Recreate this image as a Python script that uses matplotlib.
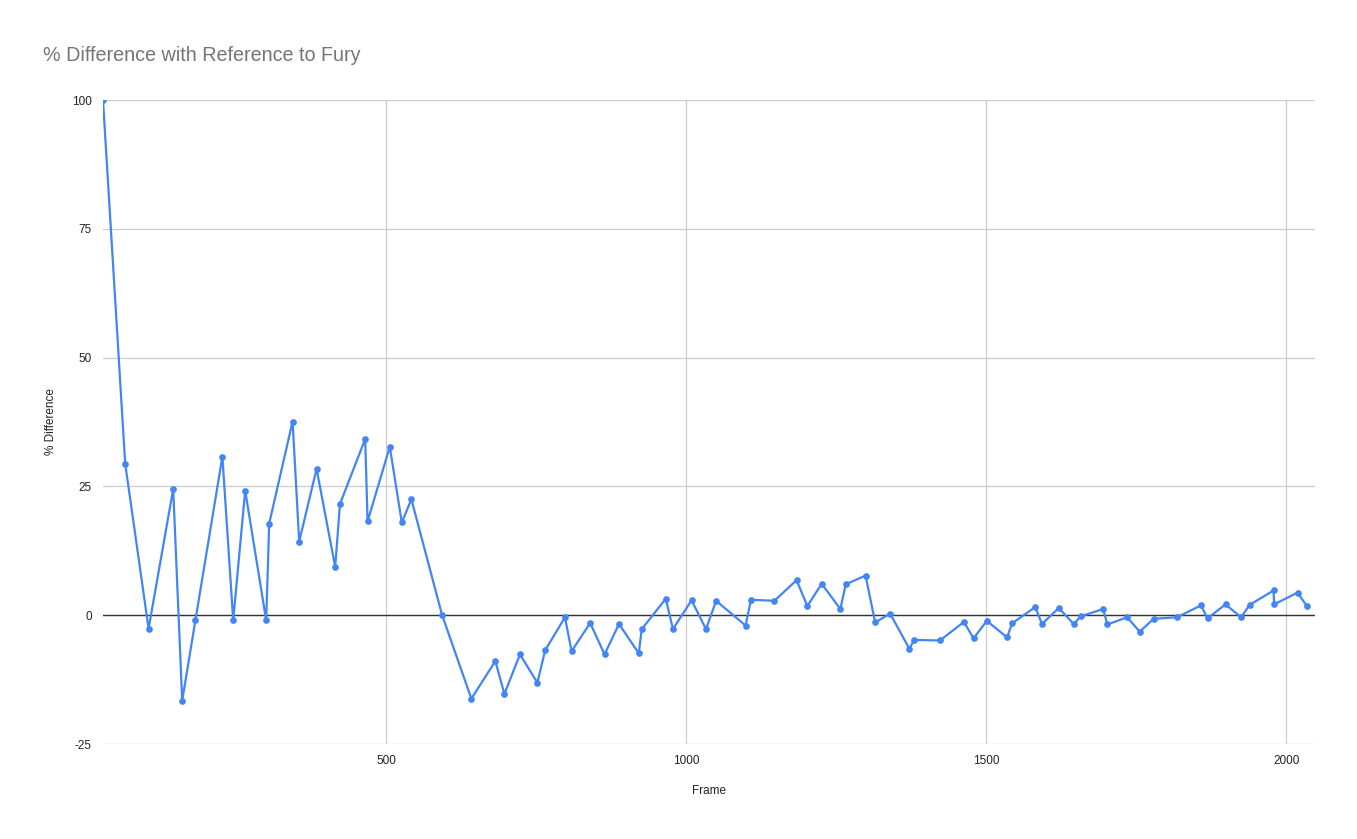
import matplotlib.pyplot as plt

plt.rcParams['font.family'] = ['Liberation Sans', 'DejaVu Sans']
plt.rcParams['axes.unicode_minus'] = False

# Frame numbers and % difference
frames = [28, 65, 104, 145, 160, 182, 227, 245, 265, 300, 305, 344, 355, 384,
          415, 423, 465, 469, 506, 526, 542, 593, 642, 682, 697, 723, 752, 765,
          798, 809, 840, 864, 888, 921, 926, 966, 978, 1009, 1033, 1050, 1099,
          1108, 1147, 1184, 1202, 1226, 1257, 1266, 1299, 1315, 1340, 1372,
          1380, 1423, 1463, 1479, 1501, 1535, 1543, 1582, 1593, 1621, 1646,
          1658, 1695, 1702, 1735, 1756, 1779, 1818, 1858, 1869, 1899, 1925,
          1939, 1979, 1980, 2019, 2035]
diff = [100, 29.4, -2.6, 24.5, -16.6, -1.0, 30.8, -1.0, 24.2, -1.0, 17.8, 37.6,
        14.3, 28.4, 9.4, 21.6, 34.2, 18.2, 32.7, 18.0, 22.5, 0.1, -16.2, -8.9,
        -15.3, -7.6, -13.1, -6.8, -0.4, -7.0, -1.5, -7.6, -1.7, -7.4, -2.7, 3.2,
        -2.7, 2.9, -2.7, 2.8, -2.0, 3.0, 2.8, 6.8, 1.8, 6.1, 1.2, 6.0, 7.7,
        -1.4, 0.3, -6.5, -4.8, -4.9, -1.3, -4.5, -1.1, -4.3, -1.6, 1.6, -1.7,
        1.4, -1.7, -0.2, 1.2, -1.8, -0.4, -3.2, -0.7, -0.4, 1.9, -0.6, 2.1,
        -0.4, 2.0, 4.8, 2.1, 4.4, 1.7]

y_ticks = [-25, 0, 25, 50, 75, 100]
x_ticks = [500, 1000, 1500, 2000]

fig = plt.figure(figsize=(13.57, 8.39), dpi=100)
ax = fig.add_axes([0.0759, 0.1132, 0.8931, 0.7676])

ax.plot(frames, diff, color='#4285F4', linewidth=1.6, marker='o',
        markersize=3.8, zorder=3)

ax.set_xlim(28, 2048)
ax.set_ylim(-25, 100)
ax.set_xticks(x_ticks)
ax.set_yticks(y_ticks)
ax.grid(True, color='#cccccc', linewidth=0.9)
ax.axhline(0, color='#333333', linewidth=1, zorder=2)
ax.set_axisbelow(True)
for s in ax.spines.values():
    s.set_visible(False)
ax.tick_params(length=0, labelsize=8.5, colors='#222222', pad=8)

ax.set_xlabel('Frame', fontsize=8.5, color='#222222', labelpad=13)
ax.set_ylabel('% Difference', fontsize=8.5, color='#222222', labelpad=10.5)
fig.text(0.0317, 0.934, '% Difference with Reference to Fury', fontsize=14.2,
         color='#757575', va='center', ha='left')

plt.savefig('out.png', dpi=100)
